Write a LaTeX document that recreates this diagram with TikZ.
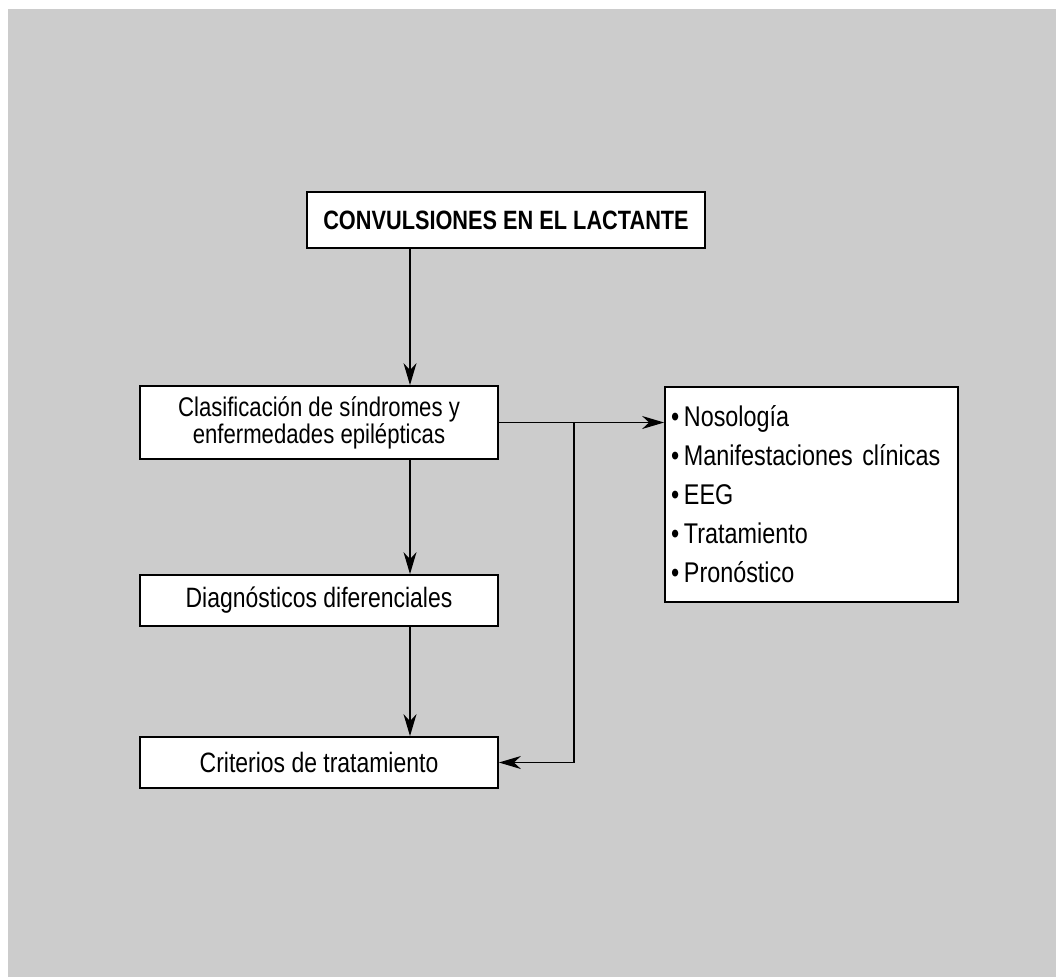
\documentclass[tikz,border=0pt]{standalone}
\usepackage{fontspec}
\setmainfont{Liberation Sans}[FakeStretch=0.82]
\usetikzlibrary{arrows.meta}
\definecolor{bggray}{HTML}{CCCCCC}
\begin{document}
\begin{tikzpicture}[x=1pt,y=-1pt,
  box/.style={draw=black,line width=1.8pt,fill=white,inner sep=0pt,align=center,
    font=\fontsize{27}{27}\selectfont},
  arr/.style={line width=1.3pt,-{Stealth[length=22pt,width=13pt,inset=7pt]}},
  conn/.style={line width=1.3pt}]
\useasboundingbox (0,0) rectangle (1056,977);
\fill[bggray] (8,9) rectangle (1056,977);
\node[box,minimum width=398pt,minimum height=56pt,font=\fontsize{26.5}{27}\selectfont\bfseries] (title) at (506,220) {CONVULSIONES EN EL LACTANTE};
\node[box,minimum width=358pt,minimum height=73pt] (clas) at (319,422.5) {Clasificación de síndromes y\\enfermedades epilépticas};
\node[box,minimum width=358pt,minimum height=51pt,font=\fontsize{28}{27}\selectfont] (diag) at (319,600.5) {Diagnósticos diferenciales};
\node[box,minimum width=358pt,minimum height=51pt,font=\fontsize{28}{27}\selectfont] (crit) at (319,762.5) {Criterios de tratamiento};
\node[box,minimum width=293pt,minimum height=215pt,align=left,text width=281pt,inner xsep=6pt,
  font=\fontsize{28.5}{39}\selectfont] (list) at (811.5,494.5)
  {•\,Nosología\\•\,Manifestaciones clínicas\\•\,EEG\\•\,Tratamiento\\•\,Pronóstico};
\coordinate (cx) at (410,0);
\coordinate (br) at (574,422.5);
\draw[arr] (title.south -| cx) -- (clas.north -| cx);
\draw[arr] (clas.south -| cx) -- (diag.north -| cx);
\draw[arr] (diag.south -| cx) -- (crit.north -| cx);
\draw[arr] (clas.east) -- (list.west |- clas.east);
\draw[arr] (br) -- (br |- crit.east) -- (crit.east);
\end{tikzpicture}
\end{document}
